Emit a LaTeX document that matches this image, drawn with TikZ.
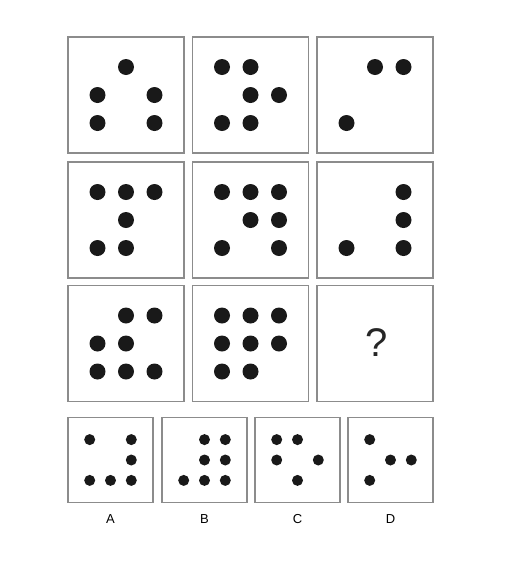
\documentclass[tikz,border=0pt]{standalone}
\usepackage{fontspec}
\setmainfont{Liberation Sans}
\usepackage{tikz}
\usetikzlibrary{positioning,calc}

\begin{document}
\begin{tikzpicture}
  [
    x=1pt, y=-1pt,
    Frame/.style={rectangle, draw=black!45, line width=1.1pt, minimum size=116pt, inner sep=0pt},
    Choice/.style={rectangle, draw=black!45, line width=1.1pt, minimum size=85pt, inner sep=0pt},
    Dot/.style={circle, fill=black!90, inner sep=0pt, minimum size=16pt},
    SmallDot/.style={circle, fill=black!90, inner sep=0pt, minimum size=11pt}
  ]
  \useasboundingbox (0,0) rectangle (506,574);

  % Grid frames
  \node[Frame] (b1) at(126, 95) {};
  \node[Frame] (b2) at(250.5, 95) {};
  \node[Frame] (b3) at(375, 95) {};
  \node[Frame] (b4) at(126, 220) {};
  \node[Frame] (b5) at(250.5, 220) {};
  \node[Frame] (b6) at(375, 220) {};
  \node[Frame] (b7) at(126, 343.5) {};
  \node[Frame] (b8) at(250.5, 343.5) {};
  \node[Frame] (b9) at(375, 343.5) {};
  \node[text=black!85, font=\fontsize{40}{40}\selectfont] (q) at(376.5, 343) {?};

  % Dots in the grid
  \foreach \f/\cells in {b1/{2/1,1/2,3/2,1/3,3/3},
                         b2/{1/1,2/1,2/2,3/2,1/3,2/3},
                         b3/{2/1,3/1,1/3},
                         b4/{1/1,2/1,3/1,2/2,1/3,2/3},
                         b5/{1/1,2/1,3/1,2/2,3/2,1/3,3/3},
                         b6/{3/1,3/2,1/3,3/3},
                         b7/{2/1,3/1,1/2,2/2,1/3,2/3,3/3},
                         b8/{1/1,2/1,3/1,1/2,2/2,3/2,1/3,2/3}}
    \foreach \c/\r in \cells
      \node[Dot] (\f-\c\r) at ($(\f)+(\c*28.5-57, \r*28-56)$) {};

  % Choices
  \node[Choice] (oA) at(110.5, 460) {};
  \node[Choice] (oB) at(204.5, 460) {};
  \node[Choice] (oC) at(297.5, 460) {};
  \node[Choice] (oD) at(390.5, 460) {};

  \node[below=8pt of oA, font=\fontsize{13}{13}\selectfont] (lA) {A};
  \node[below=8pt of oB, font=\fontsize{13}{13}\selectfont] (lB) {B};
  \node[below=8pt of oC, font=\fontsize{13}{13}\selectfont] (lC) {C};
  \node[below=8pt of oD, font=\fontsize{13}{13}\selectfont] (lD) {D};

  % Dots in the choices
  \foreach \f/\cells in {oA/{1/1,3/1,3/2,1/3,2/3,3/3},
                         oB/{2/1,3/1,2/2,3/2,1/3,2/3,3/3},
                         oC/{1/1,2/1,1/2,3/2,2/3},
                         oD/{1/1,2/2,3/2,1/3}}
    \foreach \c/\r in \cells
      \node[SmallDot] (\f-\c\r) at ($(\f)+(\c*20.8-41.6, \r*20.4-40.8)$) {};

\end{tikzpicture}
\end{document}
